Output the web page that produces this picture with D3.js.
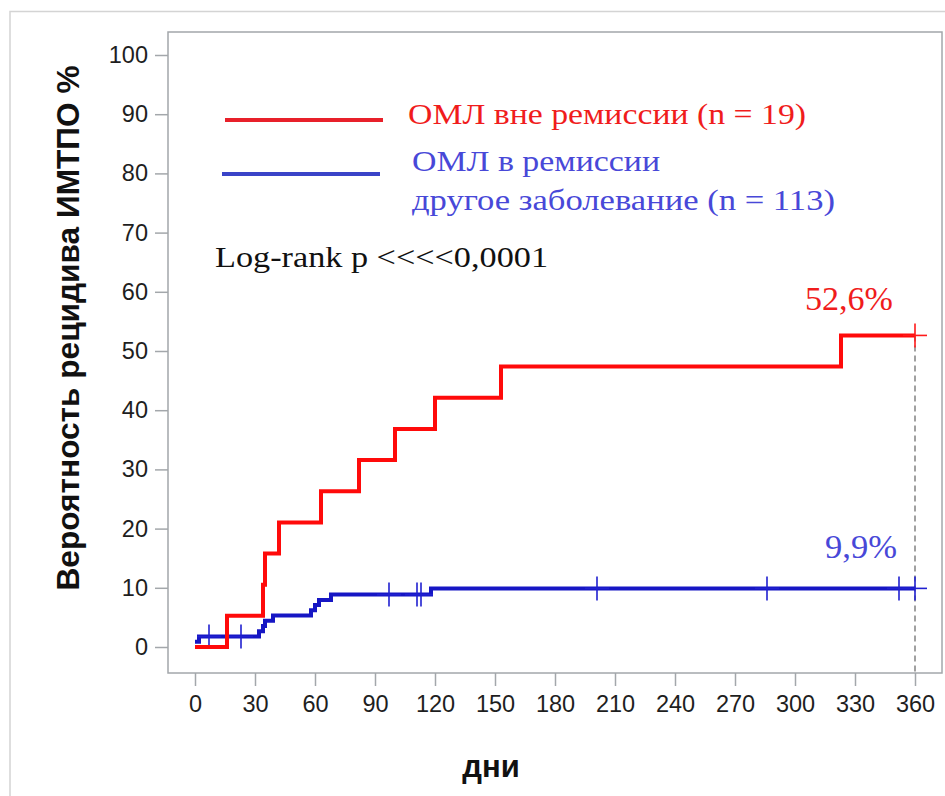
<!DOCTYPE html>
<html>
<head>
<meta charset="utf-8">
<script src="https://cdn.jsdelivr.net/npm/d3@7"></script>
<style>
  html, body { margin: 0; padding: 0; background: #fff; }
  svg { display: block; }
</style>
</head>
<body>
<svg id="chart" width="945" height="796"></svg>
<script>
// Cumulative incidence of relapse, step data (days, %)
const redTimes  = [0, 16, 34, 35, 42, 63, 82, 100, 120, 153, 323, 360];
const redValues = [0, 5.26, 10.53, 15.79, 21.05, 26.32, 31.58, 36.84, 42.11, 47.37, 52.63, 52.63];
const redCensor = [360];

const blueTimes  = [0, 2, 32, 34, 35, 39, 58, 60, 62, 68, 118, 360];
const blueValues = [0.88, 1.77, 2.65, 3.54, 4.42, 5.31, 6.19, 7.08, 7.96, 8.85, 9.9, 9.9];
const blueCensor = [7, 23, 97, 111, 113, 201, 286, 352, 360];

const xTicks = [0, 30, 60, 90, 120, 150, 180, 210, 240, 270, 300, 330, 360];
const yTicks = [0, 10, 20, 30, 40, 50, 60, 70, 80, 90, 100];

const legendLabels = ["ОМЛ вне ремиссии (n = 19)", "ОМЛ в ремиссии", "другое заболевание (n = 113)"];
const endLabels = ["52,6%", "9,9%"];
const statLabel = "Log-rank p <<<<0,0001";
const yTitle = "Вероятность рецидива ИМТПО %";
const xTitle = "дни";

const svg = d3.select("#chart");
const frame = {left: 168, right: 942, top: 32, bottom: 673};
const x = d3.scaleLinear().domain([0, 360]).range([195, 915]);
const y = d3.scaleLinear().domain([0, 100]).range([647, 55]);

const sans = "'Liberation Sans', Arial, sans-serif";
const serif = "'Liberation Serif', 'Times New Roman', serif";
const axisGray = "#a3a7ab";

// outer panel border
svg.append("path")
  .attr("d", "M10,796 V11.5 H945")
  .attr("fill", "none").attr("stroke", "#d4d4d4").attr("stroke-width", 1.5);

// plot frame
svg.append("rect")
  .attr("x", frame.left).attr("y", frame.top)
  .attr("width", frame.right - frame.left).attr("height", frame.bottom - frame.top)
  .attr("fill", "none").attr("stroke", axisGray).attr("stroke-width", 1.5);

// y axis
const yAxis = svg.append("g")
  .attr("transform", `translate(${frame.left},0)`)
  .call(d3.axisLeft(y).tickValues(yTicks).tickSize(13).tickSizeOuter(0).tickPadding(7));
yAxis.select(".domain").remove();
yAxis.selectAll(".tick line").attr("stroke", axisGray).attr("stroke-width", 1.5);
yAxis.selectAll(".tick text").attr("font-family", sans).attr("font-size", 23.5).attr("fill", "#1e1e1e");

// x axis
const xAxis = svg.append("g")
  .attr("transform", `translate(0,${frame.bottom})`)
  .call(d3.axisBottom(x).tickValues(xTicks).tickSize(13).tickSizeOuter(0).tickPadding(9));
xAxis.select(".domain").remove();
xAxis.selectAll(".tick line").attr("stroke", axisGray).attr("stroke-width", 1.5);
xAxis.selectAll(".tick text").attr("font-family", sans).attr("font-size", 23.5).attr("fill", "#1e1e1e");

// axis titles
svg.append("text")
  .attr("transform", `translate(79,328) rotate(-90)`)
  .attr("text-anchor", "middle")
  .attr("font-family", sans).attr("font-weight", "bold").attr("font-size", 31)
  .attr("fill", "#111")
  .attr("textLength", 525).attr("lengthAdjust", "spacingAndGlyphs")
  .text(yTitle);

svg.append("text")
  .attr("x", 491).attr("y", 777)
  .attr("text-anchor", "middle")
  .attr("font-family", sans).attr("font-weight", "bold").attr("font-size", 31)
  .attr("fill", "#111")
  .text(xTitle);

// dashed reference at the end of follow-up
svg.append("line")
  .attr("x1", x(360)).attr("x2", x(360))
  .attr("y1", y(52.63)).attr("y2", frame.bottom)
  .attr("stroke", "#6e6e6e").attr("stroke-width", 1.3).attr("stroke-dasharray", "6,4");

// step curves
const step = d3.line().curve(d3.curveStepAfter).x(d => x(d[0])).y(d => y(d[1]));
const series = [
  {times: blueTimes, values: blueValues, censor: blueCensor, color: "#1616c4", mark: "#2020d0"},
  {times: redTimes, values: redValues, censor: redCensor, color: "#ff0a0a", mark: "#ff1a1a"}
];

function valueAt(s, t) {
  let v = s.values[0];
  s.times.forEach((tt, i) => { if (tt <= t) v = s.values[i]; });
  return v;
}

series.forEach(s => {
  const pts = s.times.map((t, i) => [t, s.values[i]]);
  svg.append("path")
    .attr("d", step(pts))
    .attr("fill", "none").attr("stroke", s.color).attr("stroke-width", 4)
    .attr("stroke-linejoin", "miter");
  const g = svg.append("g").attr("stroke", s.mark).attr("stroke-width", 1.6);
  s.censor.forEach(t => {
    const cx = x(t), cy = y(valueAt(s, t));
    g.append("line").attr("x1", cx).attr("x2", cx).attr("y1", cy - 12).attr("y2", cy + 12);
    g.append("line").attr("x1", cx - 12).attr("x2", cx + 12).attr("y1", cy).attr("y2", cy);
  });
});

// legend
svg.append("line").attr("x1", 225).attr("x2", 383).attr("y1", 120).attr("y2", 120)
  .attr("stroke", "#e8202a").attr("stroke-width", 4);
svg.append("line").attr("x1", 222).attr("x2", 380).attr("y1", 174).attr("y2", 174)
  .attr("stroke", "#3a44c8").attr("stroke-width", 4);

svg.append("text").attr("x", 408).attr("y", 124)
  .attr("font-family", serif).attr("font-size", 30).attr("fill", "#f01c1c")
  .attr("textLength", 398).attr("lengthAdjust", "spacingAndGlyphs")
  .text(legendLabels[0]);
svg.append("text").attr("x", 412).attr("y", 171)
  .attr("font-family", serif).attr("font-size", 30).attr("fill", "#4848d8")
  .attr("textLength", 248).attr("lengthAdjust", "spacingAndGlyphs")
  .text(legendLabels[1]);
svg.append("text").attr("x", 412).attr("y", 210)
  .attr("font-family", serif).attr("font-size", 30).attr("fill", "#4848d8")
  .attr("textLength", 423).attr("lengthAdjust", "spacingAndGlyphs")
  .text(legendLabels[2]);

svg.append("text").attr("x", 215).attr("y", 267)
  .attr("font-family", serif).attr("font-size", 30).attr("fill", "#111")
  .attr("textLength", 333).attr("lengthAdjust", "spacingAndGlyphs")
  .text(statLabel);

// end-of-curve values
svg.append("text").attr("x", 805).attr("y", 310)
  .attr("font-family", serif).attr("font-size", 33).attr("fill", "#f01c1c")
  .attr("textLength", 88).attr("lengthAdjust", "spacingAndGlyphs")
  .text(endLabels[0]);
svg.append("text").attr("x", 825).attr("y", 558)
  .attr("font-family", serif).attr("font-size", 33).attr("fill", "#4848d8")
  .attr("textLength", 72).attr("lengthAdjust", "spacingAndGlyphs")
  .text(endLabels[1]);
</script>
</body>
</html>
